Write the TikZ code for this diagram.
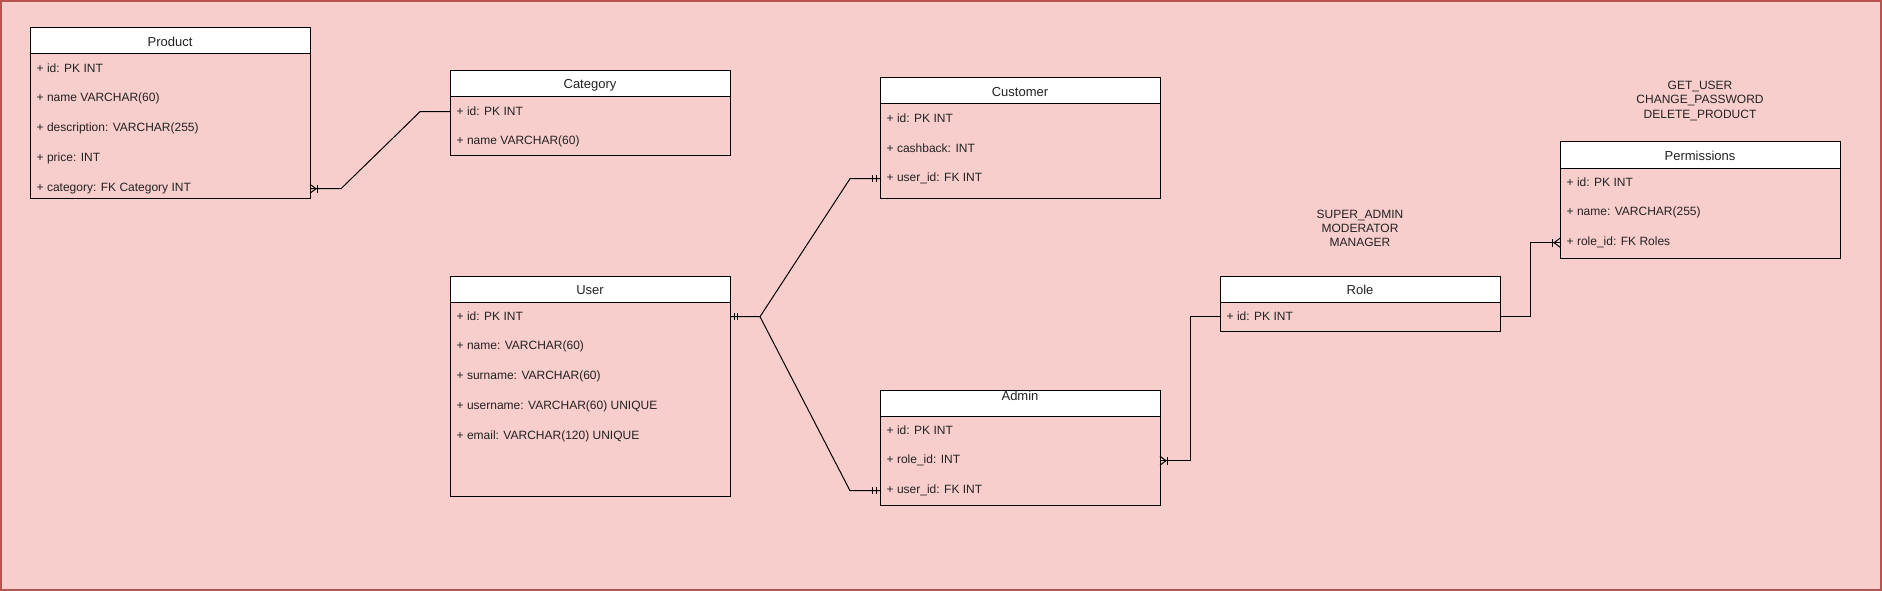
\documentclass[tikz,border=0pt]{standalone}
\usepackage{fontspec}
\setmainfont{Liberation Sans}
\definecolor{bgpink}{HTML}{F8CECC}
\definecolor{bordred}{HTML}{B85450}
\definecolor{txt}{HTML}{222222}
\tikzset{
  hdr/.style={draw=black, fill=white, line width=1pt, minimum width=280pt, minimum height=26pt,
    inner sep=0pt, outer sep=0pt, anchor=north west},
  hdrtext/.style={inner sep=0pt, text=txt, font=\fontsize{13}{15}\selectfont},
  bodybox/.style={draw=black, line width=1pt, minimum width=280pt, inner sep=0pt, outer sep=0pt, anchor=north west},
  rowtext/.style={anchor=west, inner sep=0pt, text=txt, font=\fontsize{12}{14}\selectfont},
  conn/.style={draw=black, line width=1pt},
  lbl/.style={align=center, inner sep=0pt, text=txt, font=\fontsize{12}{14.3}\selectfont},
  pics/crowmany/.style={code={
    \draw[conn] (0,-4.5) -- (6,0) -- (0,4.5);
    \draw[conn] (7.7,-4) -- (7.7,4);
  }},
  pics/mandone/.style={code={
    \draw[conn] (4,-3.6) -- (4,3.6);
    \draw[conn] (7.5,-3.6) -- (7.5,3.6);
  }}
}
\newcommand\erentity[6]{%
  \node[hdr] (#1) at (#2,#3) {};
  \node[hdrtext] (#1t) at ([yshift=-1.2pt]#1.center) {#4};
  \node[bodybox, minimum height=#5pt] (#1b) at (#1.south west) {};
  \foreach \rowtxt [count=\ri] in {#6}
    \node[rowtext] (#1r\ri) at ([xshift=6.5pt, yshift={-14.7pt-(\ri-1)*30pt}]#1.south west) {\rowtxt};
}
\begin{document}
\begin{tikzpicture}[x=1pt,y=-1pt]
\useasboundingbox (0,0) rectangle (1882,591);
\fill[bgpink] (0,0) rectangle (1882,591);
\draw[bordred, line width=2pt] (1,1) rectangle (1881,590);

\erentity{product}{30}{28}{Product}{144}{+ id: PK INT, + name VARCHAR(60), + description: VARCHAR(255), + price: INT, + category: FK Category INT}
\erentity{category}{450}{71}{Category}{59}{+ id: PK INT, + name VARCHAR(60)}
\erentity{customer}{880}{78}{Customer}{94}{+ id: PK INT, + cashback: INT, + user\_id: FK INT}
\erentity{user}{450}{276}{User}{194}{+ id: PK INT, + name: VARCHAR(60), + surname: VARCHAR(60), + username: VARCHAR(60) UNIQUE, + email: VARCHAR(120) UNIQUE}
\erentity{admin}{880}{390}{}{89}{+ id: PK INT, + role\_id: INT, + user\_id: FK INT}
\node[hdrtext] (admint) at ([yshift=-6pt]admin.north) {Admin};
\erentity{role}{1220}{276}{Role}{29}{+ id: PK INT}
\erentity{perm}{1560}{142}{Permissions}{90}{+ id: PK INT, + name: VARCHAR(255), + role\_id: FK Roles}

\node[lbl] (roleslbl) at (1360,228.5) {SUPER\_ADMIN\\MODERATOR\\MANAGER};
\node[lbl] (permslbl) at (1700,101) {GET\_USER\\CHANGE\_PASSWORD\\DELETE\_PRODUCT};

% Product - Category
\coordinate (pcA) at (productb.east |- productr5);
\coordinate (pcB) at (categoryb.west |- categoryr1);
\draw[conn] (pcA) -- ++(31,0) -- ([xshift=-30pt]pcB) -- (pcB);
\pic at (pcA) {crowmany};

% User - Customer / Admin
\coordinate (ucA) at (userb.east |- userr1);
\coordinate (ucB) at (customerb.west |- customerr3);
\coordinate (uaB) at (adminb.west |- adminr3);
\draw[conn] (ucA) -- ++(30,0) coordinate (uj) -- ([xshift=-30pt]ucB) -- (ucB);
\draw[conn] (uj) -- ([xshift=-30pt]uaB) -- (uaB);
\pic at (ucA) {mandone};
\pic[rotate=180] at (ucB) {mandone};
\pic[rotate=180] at (uaB) {mandone};

% Admin - Role
\coordinate (arA) at (adminb.east |- adminr2);
\coordinate (arB) at (roleb.west |- roler1);
\draw[conn] (arA) -- ++(30,0) |- (arB);
\pic at (arA) {crowmany};

% Role - Permissions
\coordinate (rpA) at (roleb.east |- roler1);
\coordinate (rpB) at (permb.west |- permr3);
\draw[conn] (rpA) -- ++(30,0) |- (rpB);
\pic[rotate=180] at (rpB) {crowmany};
\end{tikzpicture}
\end{document}
